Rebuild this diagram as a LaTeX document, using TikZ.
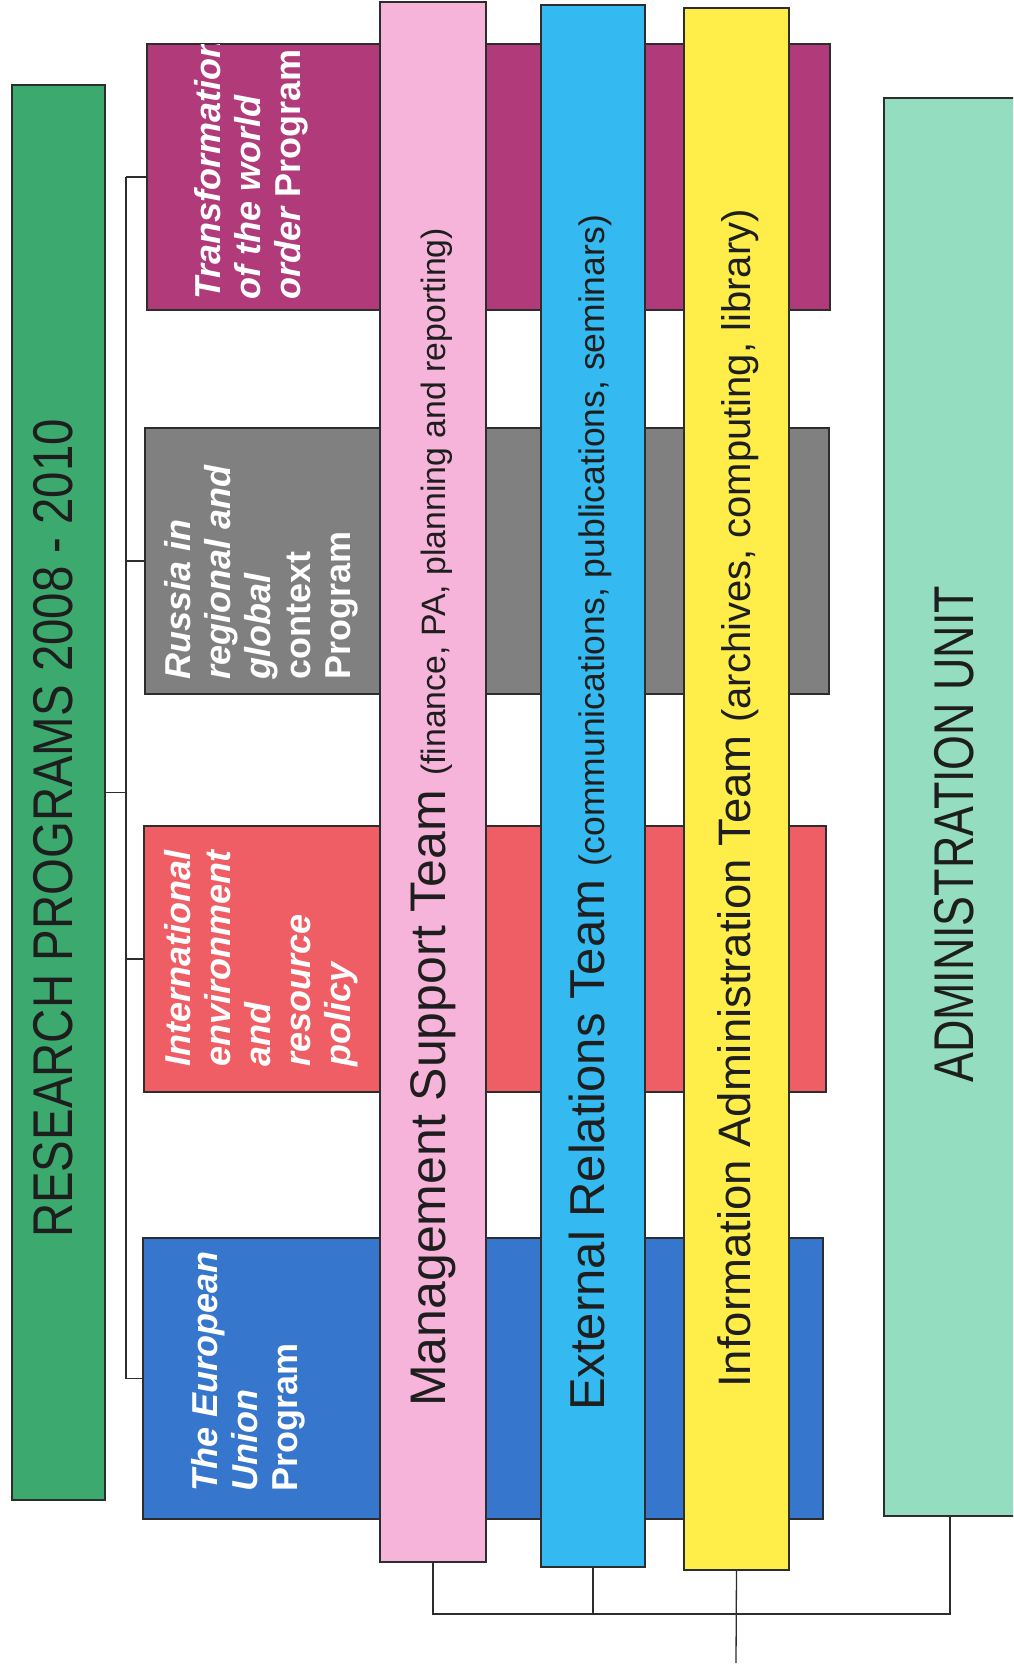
\documentclass[tikz,border=0pt]{standalone}
\usepackage{fontspec}
\setmainfont{Liberation Sans}
\usepackage{graphicx}
\definecolor{cgreen}{RGB}{60,170,110}
\definecolor{cmag}{RGB}{176,58,122}
\definecolor{cgray}{RGB}{128,128,128}
\definecolor{cred}{RGB}{238,94,100}
\definecolor{cblue}{RGB}{54,118,204}
\definecolor{cpink}{RGB}{246,180,218}
\definecolor{ccyan}{RGB}{52,186,240}
\definecolor{cyel}{RGB}{255,238,74}
\definecolor{cmint}{RGB}{148,221,192}
\definecolor{cline}{RGB}{45,45,45}
\definecolor{ctext}{RGB}{30,30,30}
\begin{document}
\begin{tikzpicture}[x=1pt,y=-1pt,
  box/.style={draw=cline, line width=1.4pt, anchor=north west, inner sep=0pt, outer sep=0pt},
  ptext/.style={rotate=90, anchor=north west, align=left, inner sep=0pt, text=white,
                font=\fontsize{36}{40}\selectfont\bfseries},
  ttext/.style={rotate=90, anchor=base west, inner sep=0pt, text=ctext},
  conn/.style={draw=cline, line width=1.3pt}]
\useasboundingbox (0,0) rectangle (1013,1673);
\clip (0,0) rectangle (1013,1673);
\fill[white] (0,0) rectangle (1013,1673);

% research programs (green)
\node[box, fill=cgreen, minimum width=93pt, minimum height=1415pt] (rp) at (12,85) {};
% program boxes
\node[box, fill=cmag,  minimum width=683pt, minimum height=266pt] (tw) at (147,44) {};
\node[box, fill=cgray, minimum width=684pt, minimum height=266pt] (ru) at (145,428) {};
\node[box, fill=cred,  minimum width=682pt, minimum height=266pt] (ie) at (144,826) {};
\node[box, fill=cblue, minimum width=680pt, minimum height=281pt] (eu) at (143,1238) {};
% team bars
\node[box, fill=cpink, minimum width=106pt, minimum height=1560pt] (ms) at (380,2) {};
\node[box, fill=ccyan, minimum width=104pt, minimum height=1562pt] (er) at (541,5) {};
\node[box, fill=cyel,  minimum width=105pt, minimum height=1562pt] (ia) at (684,8) {};
% administration unit
\node[box, fill=cmint, minimum width=132pt, minimum height=1418pt] (au) at (884,98) {};

% connectors: programs
\coordinate (sp) at (126,0);
\draw[conn] (tw.west -| sp) -- (eu.west -| sp);
\draw[conn] (rp.east) -- (rp.east -| sp);
\draw[conn] (tw.west -| sp) -- (tw.west);
\draw[conn] (ru.west -| sp) -- (ru.west);
\draw[conn] (ie.west -| sp) -- (ie.west);
\draw[conn] (eu.west -| sp) -- (eu.west);
% connectors: administration
\coordinate (bus) at (0,1614);
\coordinate (iaOut) at (736,1663);
\draw[conn] (ms.south) -- (ms.south |- bus) -- (au.south |- bus) -- (au.south);
\draw[conn] (er.south) -- (er.south |- bus);
\draw[conn] (ia.south) -- (iaOut);

% texts
\node[ttext, text=ctext, font=\fontsize{56}{56}\selectfont] (rpT) at (72,1238)
  {\scalebox{0.846}[1]{RESEARCH PROGRAMS 2008 - 2010}};
\begin{scope}
\clip (tw.north west) rectangle (tw.south east);
\node[ptext] (twT) at (194,300) {\itshape Transformation\\ \itshape of the world\\ \itshape order {\upshape Program}};
\end{scope}
\node[ptext] (ruT) at (164,680) {\itshape Russia in\\ \itshape regional and\\ \itshape global\\ context\\ Program};
\node[ptext] (ieT) at (164,1067) {\itshape International\\ \itshape environment\\ \itshape and\\ \itshape resource\\ \itshape policy};
\node[ptext] (euT) at (191,1492) {\itshape The European\\ \itshape Union\\ Program};

\node[ttext] (msT) at (445,1407)
  {\fontsize{50}{50}\selectfont Management Support Team \fontsize{33.8}{33.8}\selectfont(finance, PA, planning and reporting)};
\node[ttext] (erT) at (604,1411)
  {\fontsize{49}{49}\selectfont External Relations Team \fontsize{35.5}{35.5}\selectfont(communications, publications, seminars)};
\node[ttext] (iaT) at (750,1388)
  {\fontsize{45.5}{45.5}\selectfont Information Administration Team \fontsize{40}{40}\selectfont(archives, computing, library)};

\node[ttext, text=ctext, font=\fontsize{56}{56}\selectfont] (auT) at (973,1083)
  {\scalebox{0.80}[1]{ADMINISTRATION UNIT}};
\end{tikzpicture}
\end{document}
